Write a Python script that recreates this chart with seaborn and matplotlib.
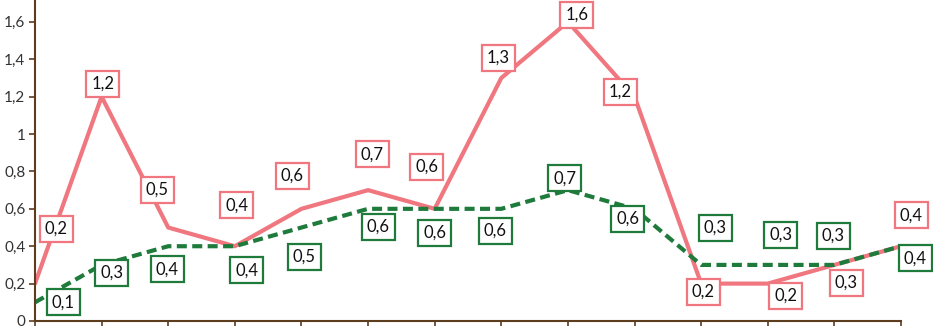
"""Two series line chart with boxed value labels."""
import matplotlib
matplotlib.use("Agg")
import matplotlib.pyplot as plt
import pandas as pd
import seaborn as sns

# data
periods = list(range(14))
red_values = [0.2, 1.2, 0.5, 0.4, 0.6, 0.7, 0.6, 1.3, 1.6, 1.2, 0.2, 0.2, 0.3, 0.4]
green_values = [0.1, 0.3, 0.4, 0.4, 0.5, 0.6, 0.6, 0.6, 0.7, 0.6, 0.3, 0.3, 0.3, 0.4]
y_ticks = [0, 0.2, 0.4, 0.6, 0.8, 1.0, 1.2, 1.4, 1.6]

# label offsets in pixels (dx, dy), style only
red_offsets = [(21, 55), (1, 13), (-11, 38), (2, 41), (-9, 33), (4, 36), (-8, 42),
               (-3, 20), (9, 7), (-14, 5), (2, -8), (18, -12), (12, -18), (10, 31)]
green_offsets = [(28, 0), (10, -8), (-1, -23), (12, -24), (3, -29), (10, -18), (0, -24),
                 (-6, -22), (-3, 12), (-7, -10), (14, 37), (13, 30), (-1, 29), (14, -12)]

RED = "#F0767F"
GREEN = "#1E7B3C"
BROWN = "#5E3C1E"

sns.set_style("white")
plt.rcParams["font.family"] = ["Lato", "DejaVu Sans"]


def fmt(v):
    if v == 0:
        return "0"
    s = f"{v:.1f}".replace(".", ",")
    return "1" if s == "1,0" else s


df = pd.DataFrame({"x": periods, "red": red_values, "green": green_values})

fig = plt.figure(figsize=(9.33, 3.26), dpi=100)
ax = fig.add_axes([35 / 933, 5 / 326, 866 / 933, 321 / 326])

sns.lineplot(data=df, x="x", y="red", ax=ax, color=RED, linewidth=3)
sns.lineplot(data=df, x="x", y="green", ax=ax, color=GREEN, linewidth=3,
             linestyle=(0, (2.4, 1.3)))

for xs, vals, offs, col in [(periods, red_values, red_offsets, RED),
                            (periods, green_values, green_offsets, GREEN)]:
    for x, v, (dx, dy) in zip(xs, vals, offs):
        ax.annotate(fmt(v), (x, v), xytext=(dx, dy), textcoords="offset pixels",
                    ha="center", va="center", fontsize=12, color="#111111",
                    bbox=dict(boxstyle="square,pad=0.3", fc="white", ec=col, lw=1.6),
                    zorder=5, annotation_clip=False)

ax.set_xlim(0, 13)
ax.set_ylim(0, 1.717)
ax.set_xticks(periods)
ax.set_xticklabels([])
ax.set_yticks(y_ticks)
ax.set_yticklabels([fmt(t) for t in y_ticks], fontsize=11, color="#333333")
ax.set_xlabel("")
ax.set_ylabel("")
for side in ["top", "right"]:
    ax.spines[side].set_visible(False)
for side in ["left", "bottom"]:
    ax.spines[side].set_color(BROWN)
    ax.spines[side].set_linewidth(1.5)
ax.tick_params(axis="x", direction="out", length=6, width=1.2, color=BROWN, bottom=True)
ax.tick_params(axis="y", direction="out", length=4, width=1.2, color=BROWN, left=True, pad=3)

fig.savefig("out.png", dpi=100)
